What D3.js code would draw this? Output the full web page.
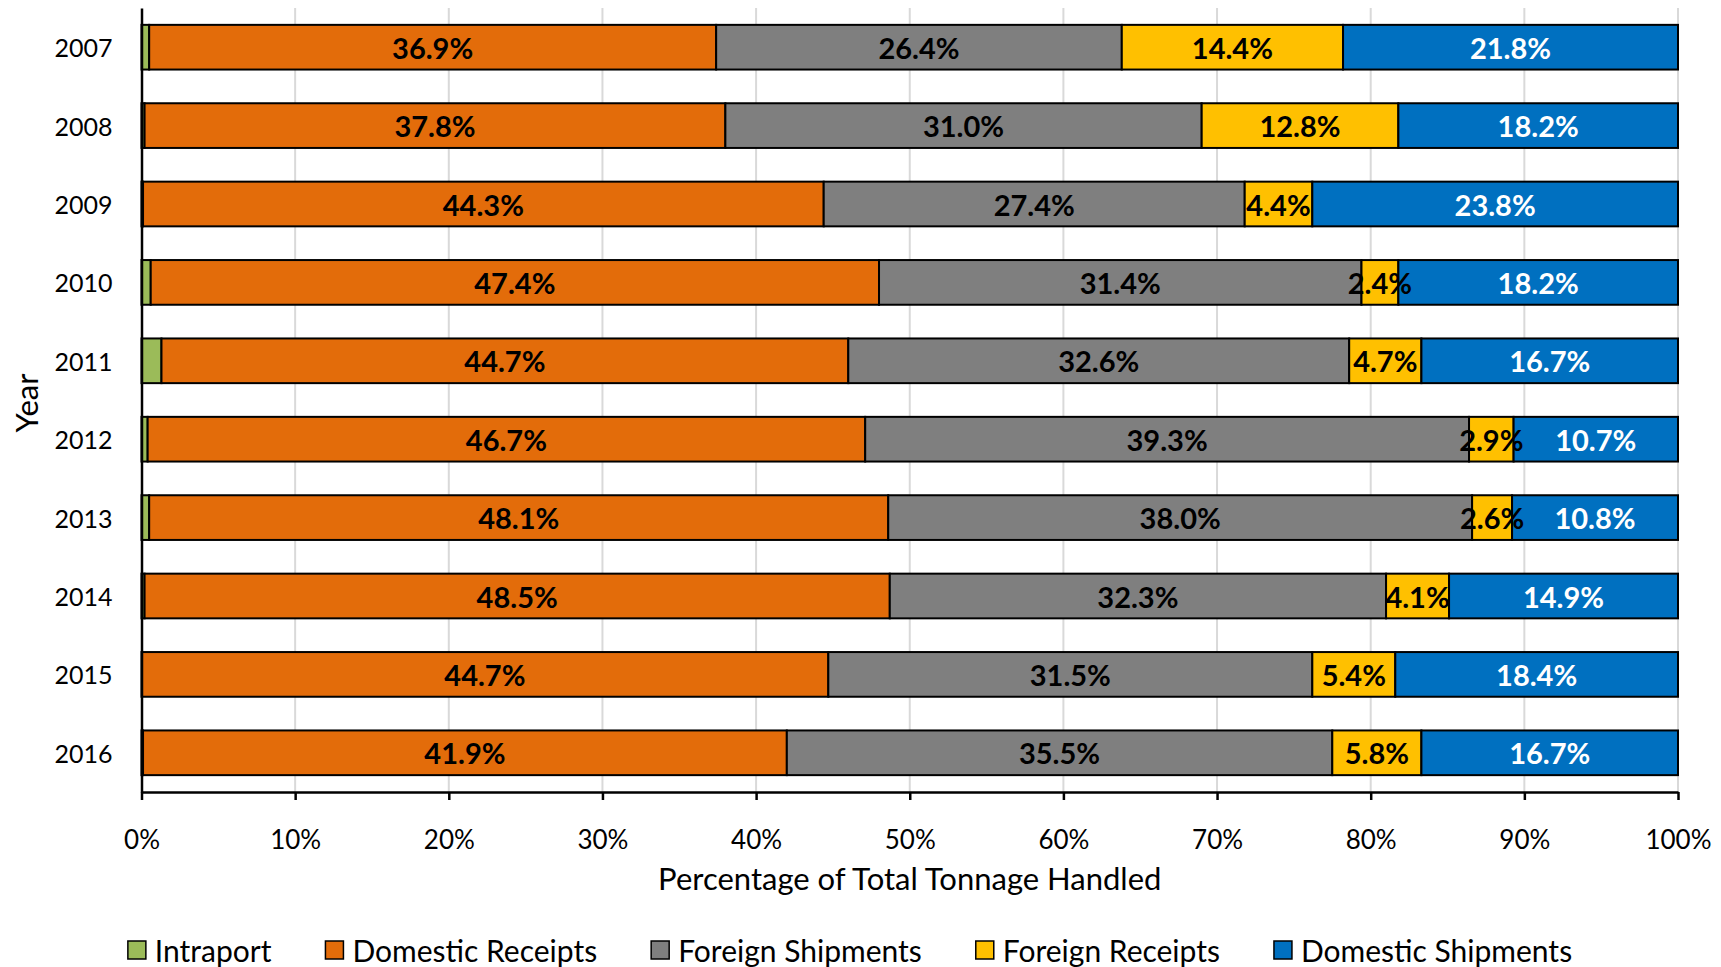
<!DOCTYPE html>
<html>
<head>
<meta charset="utf-8">
<script src="https://cdn.jsdelivr.net/npm/d3@7/dist/d3.min.js"></script>
<style>
  html, body { margin: 0; padding: 0; background: #fff; }
  svg { display: block; font-family: Lato, "Open Sans", sans-serif; }
</style>
</head>
<body>
<svg id="chart" width="1721" height="967"></svg>
<script>
const years = ["2007","2008","2009","2010","2011","2012","2013","2014","2015","2016"];
const seriesNames = ["Intraport","Domestic Receipts","Foreign Shipments","Foreign Receipts","Domestic Shipments"];
const seriesColors = ["#9BBB59","#E36C0A","#7F7F7F","#FFC000","#0070C0"];
const labelColors = [null,"#000","#000","#000","#fff"];
const intraport        = [0.5, 0.2, 0.1, 0.6, 1.3, 0.4, 0.5, 0.2, 0.0, 0.1];
const domesticReceipts = [36.9,37.8,44.3,47.4,44.7,46.7,48.1,48.5,44.7,41.9];
const foreignShipments = [26.4,31.0,27.4,31.4,32.6,39.3,38.0,32.3,31.5,35.5];
const foreignReceipts  = [14.4,12.8,4.4,2.4,4.7,2.9,2.6,4.1,5.4,5.8];
const domesticShipments= [21.8,18.2,23.8,18.2,16.7,10.7,10.8,14.9,18.4,16.7];
const xTicks = [0,10,20,30,40,50,60,70,80,90,100];

const seriesValues = [intraport, domesticReceipts, foreignShipments, foreignReceipts, domesticShipments];
const rows = years.map((y, i) => {
  const r = { year: y };
  seriesNames.forEach((s, j) => r[s] = seriesValues[j][i]);
  return r;
});
const stacked = d3.stack().keys(seriesNames)(rows);

const svg = d3.select("#chart");
const m = { left: 141.5, right: 1678, top: 8, bottom: 792 };
const x = d3.scaleLinear().domain([0, 100]).range([m.left, m.right]);
const y = d3.scaleBand().domain(years).range([m.top, m.bottom]).paddingInner(0.43).paddingOuter(0.215);

// gridlines
svg.append("g").selectAll("line").data(xTicks.filter(t => t > 0)).join("line")
  .attr("x1", d => x(d)).attr("x2", d => x(d))
  .attr("y1", m.top).attr("y2", m.bottom)
  .attr("stroke", "#D9D9D9").attr("stroke-width", 2);

// bars
const layers = svg.append("g").selectAll("g").data(stacked).join("g")
  .attr("fill", (d, i) => seriesColors[i]);
layers.selectAll("rect").data(d => d.filter(p => p[1] - p[0] > 0)).join("rect")
  .attr("x", d => x(d[0]))
  .attr("y", d => y(d.data.year))
  .attr("width", d => x(d[1]) - x(d[0]))
  .attr("height", y.bandwidth())
  .attr("stroke", "#000").attr("stroke-width", 2);

// data labels
stacked.forEach((layer, i) => {
  if (i === 0) return;
  svg.append("g").selectAll("text").data(layer).join("text")
    .attr("x", d => (x(d[0]) + x(d[1])) / 2)
    .attr("y", d => y(d.data.year) + y.bandwidth() / 2)
    .attr("text-anchor", "middle").attr("dominant-baseline", "central")
    .attr("font-weight", "bold").attr("font-size", 29)
    .attr("fill", labelColors[i])
    .text(d => (d[1] - d[0]).toFixed(1) + "%");
});

// x axis
const xAxis = svg.append("g").attr("transform", `translate(0,${m.bottom})`)
  .call(d3.axisBottom(x).tickValues(xTicks).tickFormat(d => d + "%").tickSize(8).tickSizeOuter(0));
xAxis.select(".domain").attr("stroke", "#000").attr("stroke-width", 2.5);
xAxis.selectAll(".tick line").attr("stroke", "#000").attr("stroke-width", 2.5);
xAxis.selectAll(".tick text").attr("font-size", 26).attr("font-family", "Lato").attr("fill", "#000").attr("dy", null).attr("y", 47).attr("dominant-baseline", "central");

// y axis
const yAxis = svg.append("g").attr("transform", `translate(${m.left},0)`)
  .call(d3.axisLeft(y).tickSize(0).tickSizeOuter(0).tickPadding(29));
yAxis.select(".domain").attr("stroke", "#000").attr("stroke-width", 2.5);
yAxis.selectAll(".tick text").attr("font-size", 25).attr("font-family", "Lato").attr("fill", "#000").attr("dy", null).attr("dominant-baseline", "central");

// axis titles
svg.append("text").attr("x", (m.left + m.right) / 2).attr("y", 878)
  .attr("text-anchor", "middle").attr("dominant-baseline", "central")
  .attr("font-size", 31).text("Percentage of Total Tonnage Handled");
svg.append("text").attr("transform", `translate(26,${(m.top + m.bottom) / 2 + 3}) rotate(-90)`)
  .attr("text-anchor", "middle").attr("dominant-baseline", "central")
  .attr("font-size", 31).text("Year");

// legend
const legend = svg.append("g");
let lx = 0;
seriesNames.forEach((s, i) => {
  const g = legend.append("g").attr("transform", `translate(${lx},0)`);
  g.append("rect").attr("x", 0).attr("y", -9).attr("width", 18).attr("height", 18)
    .attr("fill", seriesColors[i]).attr("stroke", "#000").attr("stroke-width", 1.5);
  const t = g.append("text").attr("x", 27).attr("y", 0).attr("dominant-baseline", "central")
    .attr("font-size", 30).text(s);
  lx += 27 + t.node().getComputedTextLength() + 54;
});
const totalW = lx - 54;
legend.attr("transform", `translate(${850 - totalW / 2},950)`);
</script>
</body>
</html>
